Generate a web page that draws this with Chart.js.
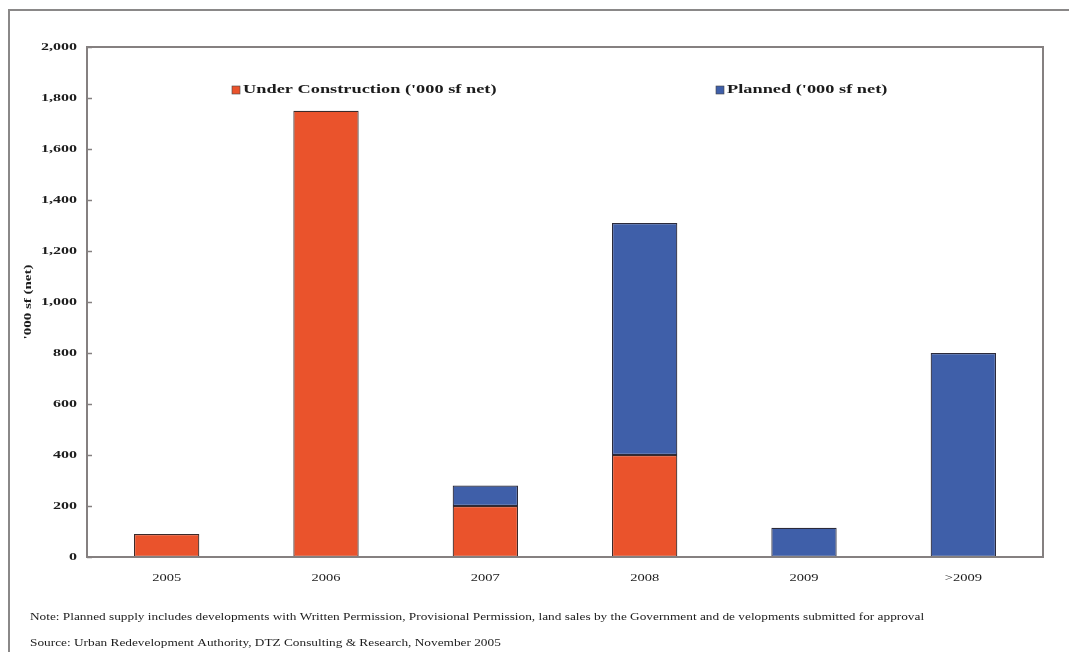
<!DOCTYPE html>
<html>
<head>
<meta charset="utf-8">
<script src="https://cdn.jsdelivr.net/npm/chart.js@4.4.1/dist/chart.umd.min.js"></script>
<style>
  html, body { margin: 0; padding: 0; background: #ffffff; }
  #wrap { width: 1069px; height: 652px; position: relative; }
  canvas { display: block; }
</style>
</head>
<body>
<div id="wrap"><canvas id="c" width="1069" height="652"></canvas></div>
<script>
// Supply pipeline, '000 sf net
const categories = ['2005', '2006', '2007', '2008', '2009', '>2009'];
const underConstruction = [90, 1750, 200, 400, null, null];
const planned = [null, null, 80, 910, 115, 800];
const yTicks = [0, 200, 400, 600, 800, 1000, 1200, 1400, 1600, 1800, 2000];

const seriesLabels = ["Under Construction ('000 sf net)", "Planned ('000 sf net)"];
const axisTitle = "'000 sf (net)";
const noteText = 'Note: Planned supply includes developments with Written Permission, Provisional Permission, land sales by the Government and de velopments submitted for approval';
const sourceText = 'Source: Urban Redevelopment Authority, DTZ Consulting & Research, November 2005';

const ORANGE = '#ea532c';
const BLUE = '#3f5fa9';
const FRAME = '#858080';
const INK = '#1c1c1c';
const SERIF = '"Liberation Serif", "DejaVu Serif", serif';

// draw text widened along its baseline by factor sx
function wideText(ctx, text, x, y, sx, align) {
  ctx.save();
  ctx.translate(x, y);
  ctx.scale(sx, 1);
  ctx.textAlign = align || 'left';
  ctx.fillText(text, 0, 0);
  ctx.restore();
}

// Frame, inward ticks, tick labels, legend, axis title and footnotes
const decorations = {
  id: 'decorations',
  afterDatasetsDraw(chart) {
    const ctx = chart.ctx;
    const a = chart.chartArea;
    const y = chart.scales.y;
    const x = chart.scales.x;
    ctx.save();
    // outer border
    ctx.strokeStyle = '#8a8888';
    ctx.lineWidth = 2;
    ctx.beginPath();
    ctx.moveTo(9, 700);
    ctx.lineTo(9, 10);
    ctx.lineTo(1100, 10);
    ctx.stroke();
    // plot frame
    ctx.strokeStyle = FRAME;
    ctx.lineWidth = 2;
    ctx.strokeRect(a.left, a.top, a.right - a.left, a.bottom - a.top);
    // inward y ticks and their labels
    ctx.lineWidth = 1.5;
    ctx.fillStyle = INK;
    ctx.textBaseline = 'middle';
    ctx.font = 'bold 10px ' + SERIF;
    yTicks.forEach(v => {
      const py = Math.round(y.getPixelForValue(v)) + 0.5;
      ctx.beginPath();
      ctx.moveTo(a.left, py);
      ctx.lineTo(a.left + 5, py);
      ctx.stroke();
      wideText(ctx, v.toLocaleString('en-US'), a.left - 10, py, 1.6, 'right');
    });
    // category labels
    ctx.font = '10px ' + SERIF;
    categories.forEach((c, i) => {
      wideText(ctx, c, x.getPixelForValue(i), a.bottom + 21, 1.45, 'center');
    });
    // legend
    const ds = chart.data.datasets;
    const legendPos = [{ x: 232, y: 90 }, { x: 716, y: 90 }];
    ctx.font = 'bold 13px ' + SERIF;
    ds.forEach((d, i) => {
      const p = legendPos[i];
      ctx.fillStyle = d.backgroundColor;
      ctx.fillRect(p.x, p.y - 4, 8, 8);
      ctx.strokeStyle = '#444';
      ctx.lineWidth = 0.6;
      ctx.strokeRect(p.x, p.y - 4, 8, 8);
      ctx.fillStyle = INK;
      wideText(ctx, d.label, p.x + 11, p.y, 1.41, 'left');
    });
    // y-axis title
    ctx.save();
    ctx.translate(28, (a.top + a.bottom) / 2);
    ctx.rotate(-Math.PI / 2);
    ctx.font = 'bold 10px ' + SERIF;
    wideText(ctx, axisTitle, 0, 0, 1.5, 'center');
    ctx.restore();
    // footnotes
    ctx.font = '10px ' + SERIF;
    ctx.fillStyle = INK;
    wideText(ctx, noteText, 30, 617, 1.33, 'left');
    wideText(ctx, sourceText, 30, 643, 1.33, 'left');
    ctx.restore();
  }
};

new Chart(document.getElementById('c'), {
  type: 'bar',
  data: {
    labels: categories,
    datasets: [
      {
        label: seriesLabels[0],
        data: underConstruction,
        backgroundColor: ORANGE,
        borderColor: '#3b2a2a',
        borderWidth: 1.2,
        borderSkipped: false,
        categoryPercentage: 1,
        barPercentage: 0.41
      },
      {
        label: seriesLabels[1],
        data: planned,
        backgroundColor: BLUE,
        borderColor: '#2b2a3a',
        borderWidth: 1.2,
        borderSkipped: false,
        categoryPercentage: 1,
        barPercentage: 0.41
      }
    ]
  },
  options: {
    responsive: false,
    animation: false,
    devicePixelRatio: 1,
    layout: { padding: { left: 0, top: 47, right: 26, bottom: 65 } },
    plugins: {
      legend: { display: false },
      tooltip: { enabled: false }
    },
    scales: {
      x: {
        stacked: true,
        grid: { display: false, drawTicks: false },
        border: { display: false },
        ticks: { display: false },
        afterFit(scale) { scale.height = 30; }
      },
      y: {
        stacked: true,
        min: 0,
        max: 2000,
        afterBuildTicks(scale) { scale.ticks = yTicks.map(v => ({ value: v })); },
        grid: { display: false, drawTicks: false },
        border: { display: false },
        ticks: { display: false },
        afterFit(scale) { scale.width = 87; }
      }
    }
  },
  plugins: [decorations]
});
</script>
</body>
</html>
